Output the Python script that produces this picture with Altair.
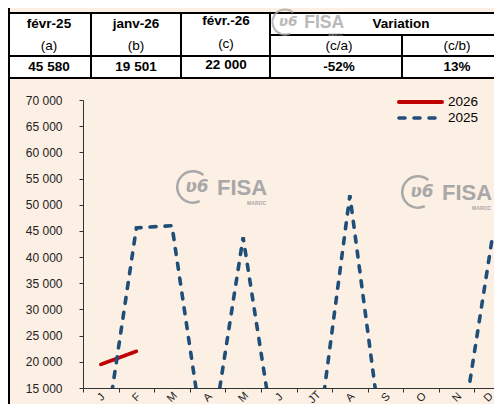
import altair as alt
import pandas as pd

# ---------------- data ----------------
months = ["J", "F", "M", "A", "M", "J", "JT", "A", "S", "O", "N", "D"]
month_keys = [f"{i:02d}" for i in range(12)]
values_2025 = [0, 45580, 46000, 0, 43800, 0, 0, 51800, 0, 0, 0, 43600]
values_2026 = [19501, 22000]
series_names = ["2026", "2025"]
series_colors = ["#C00000", "#1F4E79"]

table_head = ["févr-25", "janv-26", "févr.-26", "Variation"]
table_sub = ["(a)", "(b)", "(c)", "(c/a)", "(c/b)"]
table_vals = ["45 580", "19 501", "22 000", "-52%", "13%"]

y_ticks = list(range(15000, 70001, 5000))

# ---------------- layout (plot-area pixel coords) ----------------
W, H = 411, 288
PAD = {"left": 75, "top": 92, "right": 0, "bottom": 16}
head_x = [-34, 53, 143, 318]
head_y = [-76, -76, -79, -76]
col_x = [-34, 53, 143, 256, 374]
sub_y = [-54, -54, -56, -54, -54]
val_y = [-33, -33, -35, -33, -33]

BG = "#FCEFE4"
GRAY = "#A8A8A8"

df25 = pd.DataFrame({"key": month_keys, "v": values_2025, "series": "2025"})
df26 = pd.DataFrame({"key": month_keys[:2], "v": values_2026, "series": "2026"})
lines_df = pd.concat([df26, df25], ignore_index=True)

months_js = "[" + ",".join(f"'{m}'" for m in months) + "]"
last_key = month_keys[-1]

x_enc = alt.X(
    "key:O",
    bandPosition=0.5,
    scale=alt.Scale(type="band", domain=month_keys, range=[0, 427], paddingInner=0, paddingOuter=0),
    axis=alt.Axis(
        title=None, labelExpr=f"{months_js}[toNumber(datum.value)]", labelAngle=-45,
        labelAlign="center", labelBaseline="middle", labelPadding=5, tickBand="extent",
        labelOffset={"condition": {"test": f"datum.value == '{last_key}'", "value": -4}, "value": 0},
        tickSize=4, domainColor="#333333", tickColor="#333333", labelFontSize=11,
        labelColor="#222222", labelFont="Liberation Sans", grid=False,
    ),
)
y_enc = alt.Y(
    "v:Q",
    scale=alt.Scale(domain=[15000, 70000], nice=False, zero=False),
    axis=alt.Axis(
        title=None, values=y_ticks, labelExpr="replace(format(datum.value, ','), ',', ' ')",
        tickSize=4, labelPadding=17, domainColor="#333333", tickColor="#333333",
        labelFontSize=12, labelColor="#222222", labelFont="Liberation Sans", grid=False,
    ),
)
color_enc = alt.Color("series:N", scale=alt.Scale(domain=series_names, range=series_colors), legend=None)
dash_enc = alt.StrokeDash("series:N", scale=alt.Scale(domain=series_names, range=[[1, 0], [6, 9]]), legend=None)

lines = alt.Chart(lines_df).mark_line(clip=True, strokeCap="round", strokeWidth=3.6).encode(
    x=x_enc, y=y_enc, color=color_enc, strokeDash=dash_enc, detail="series:N"
)

anchor = pd.DataFrame({"a": [0]})
base = alt.Chart(anchor)

# table background and lines
table_bg = base.mark_rect(color="white").encode(
    x=alt.value(-76), x2=alt.value(W), y=alt.value(-87), y2=alt.value(-22)
)
hl = [(-76, W, -87), (187, W, -65), (-76, W, -44), (-76, W, -22)]
vl = [(-74, -92, H + 16), (8, -87, -22), (98, -87, -22), (187, -87, -22), (319, -65, -22)]
table_rules = []
for x1, x2, yy in hl:
    table_rules.append(base.mark_rule(color="black", strokeWidth=2).encode(
        x=alt.value(x1), x2=alt.value(x2), y=alt.value(yy)))
for xx, y1, y2 in vl:
    table_rules.append(base.mark_rule(color="black", strokeWidth=2).encode(
        x=alt.value(xx), y=alt.value(y1), y2=alt.value(y2)))

txt_rows = []
for t, x, y in zip(table_head, head_x, head_y):
    txt_rows.append({"t": t, "x": x, "y": y, "b": "bold"})
for t, x, y in zip(table_sub, col_x, sub_y):
    txt_rows.append({"t": t, "x": x, "y": y, "b": "normal"})
for t, x, y in zip(table_vals, col_x, val_y):
    txt_rows.append({"t": t, "x": x, "y": y, "b": "bold"})
txt_df = pd.DataFrame(txt_rows)

table_bold = alt.Chart(txt_df).transform_filter("datum.b == 'bold'").mark_text(
    font="Liberation Sans", fontSize=13.5, fontWeight="bold", color="black", baseline="middle"
).encode(x=alt.X("x:Q", scale=None), y=alt.Y("y:Q", scale=None), text="t:N")
table_norm = alt.Chart(txt_df).transform_filter("datum.b == 'normal'").mark_text(
    font="Liberation Sans", fontSize=13.5, color="black", baseline="middle"
).encode(x=alt.X("x:Q", scale=None), y=alt.Y("y:Q", scale=None), text="t:N")

# watermarks
def logo(cx, cy, s=1.0, op=1.0):
    return [
        base.mark_arc(theta=2.7, theta2=7.0, radius=17 * s, radius2=14.5 * s, color=GRAY, opacity=op).encode(
            x=alt.value(cx), y=alt.value(cy)),
        base.mark_text(text="ʋ6", font="DejaVu Sans", fontSize=17 * s, fontStyle="italic", fontWeight="bold",
                       color=GRAY, opacity=op, baseline="middle").encode(x=alt.value(cx + 4 * s), y=alt.value(cy)),
        base.mark_text(text="FISA", font="Liberation Sans", fontSize=22 * s, fontWeight="bold", color=GRAY,
                       opacity=op, align="left", baseline="middle").encode(
            x=alt.value(cx + 24 * s), y=alt.value(cy + 1 * s)),
        base.mark_text(text="MAROC", font="Liberation Sans", fontSize=5 * s, fontWeight="bold", color=GRAY,
                       opacity=op, align="right", baseline="middle").encode(
            x=alt.value(cx + 73 * s), y=alt.value(cy + 16 * s)),
    ]

wm = logo(110, 87) + logo(335, 92) + logo(202, -78, 0.8, 0.8)

# manual legend
leg = [
    base.mark_rule(color=series_colors[0], strokeWidth=4, strokeCap="round").encode(
        x=alt.value(316), x2=alt.value(359), y=alt.value(2)),
    base.mark_rule(color=series_colors[1], strokeWidth=3.6, strokeCap="round", strokeDash=[6, 9]).encode(
        x=alt.value(316), x2=alt.value(360), y=alt.value(18)),
    base.mark_text(text=series_names[0], font="Liberation Sans", fontSize=13.5, align="left", baseline="middle",
                   color="black").encode(x=alt.value(365), y=alt.value(2)),
    base.mark_text(text=series_names[1], font="Liberation Sans", fontSize=13.5, align="left", baseline="middle",
                   color="black").encode(x=alt.value(365), y=alt.value(18)),
]

chart = alt.layer(
    table_bg, *table_rules, table_bold, table_norm, *wm, lines, *leg
).properties(
    width=W, height=H, autosize="none", padding=PAD, background=BG
).configure_view(stroke=None)

chart.save("out.html", embed_options={"renderer": "svg", "actions": False})
